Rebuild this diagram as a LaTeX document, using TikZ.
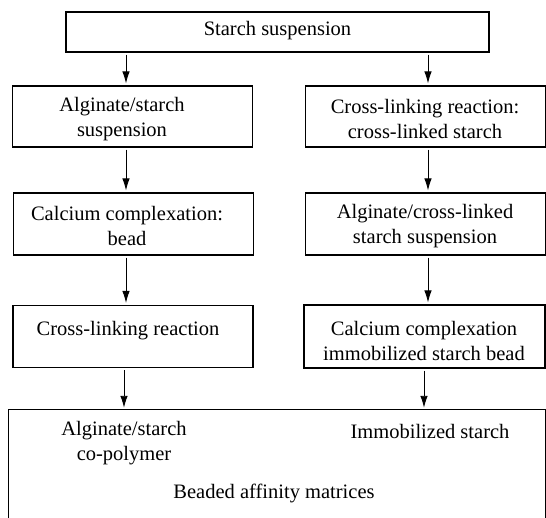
\documentclass[tikz,border=0pt]{standalone}
\usepackage{fontspec}
\setmainfont{Liberation Serif}
\usetikzlibrary{arrows.meta,calc}
\begin{document}
\begin{tikzpicture}[x=1pt,y=-1pt,
  box/.style={draw, line width=1.1pt, inner sep=0pt, minimum width=240pt, minimum height=61pt},
  txt/.style={font=\fontsize{20.5}{25}\selectfont, align=center, inner sep=0pt},
  arr/.style={line width=0.9pt, -{Latex[length=12pt,width=7.5pt]}, shorten >=2pt, shorten <=2pt}]
\useasboundingbox (0,0) rectangle (546,517);
% boxes
\node[box, minimum width=423pt, minimum height=40pt] (top) at (277.5,32) {};
\node[box] (l2) at (132.5,116.5) {};
\node[box] (r2) at (425.5,116.5) {};
\node[box, minimum height=62pt] (l3) at (133.5,224) {};
\node[box, minimum height=62pt] (r3) at (425.5,224) {};
\node[box, minimum height=62pt] (l4) at (133,336.5) {};
\node[box, minimum width=241pt, minimum height=63pt] (r4) at (424.5,336.5) {};
\node[inner sep=0pt, minimum width=536pt, minimum height=120pt] (bot) at (277,470) {};
\draw[line width=1.1pt] (bot.south west) -- (bot.north west) -- (bot.north east) -- (bot.south east);
% texts
\node[txt] (ttop) at (277.5,31) {Starch suspension};
\node[txt] (tl2) at (122,119) {Alginate/starch\\suspension};
\node[txt] (tr2) at (425,119) {Cross-linking reaction:\\cross-linked starch};
\node[txt] (tl3) at (127,226) {Calcium complexation:\\bead};
\node[txt] (tr3) at (425,226) {Alginate/cross-linked\\starch suspension};
\node[txt] (tl4) at (128,331) {Cross-linking reaction};
\node[txt] (tr4) at (424,341) {Calcium complexation\\immobilized starch bead};
\node[txt] (tb1) at (124,443) {Alginate/starch\\co-polymer};
\node[txt] (tb2) at (430,431) {Immobilized starch};
\node[txt] (tb3) at (274,493) {Beaded affinity matrices};
% arrow columns
\coordinate (cl) at (126,0);
\coordinate (cr) at (428,0);
\coordinate (cl2) at (124,0);
\coordinate (cr2) at (424,0);
\draw[arr] (top.south -| cl) -- (l2.north -| cl);
\draw[arr] (top.south -| cr) -- (r2.north -| cr);
\draw[arr] (l2.south -| cl) -- (l3.north -| cl);
\draw[arr] (r2.south -| cr) -- (r3.north -| cr);
\draw[arr] (l3.south -| cl) -- (l4.north -| cl);
\draw[arr] (r3.south -| cr) -- (r4.north -| cr);
\draw[arr] (l4.south -| cl2) -- (bot.north -| cl2);
\draw[arr] (r4.south -| cr2) -- (bot.north -| cr2);
\end{tikzpicture}
\end{document}
